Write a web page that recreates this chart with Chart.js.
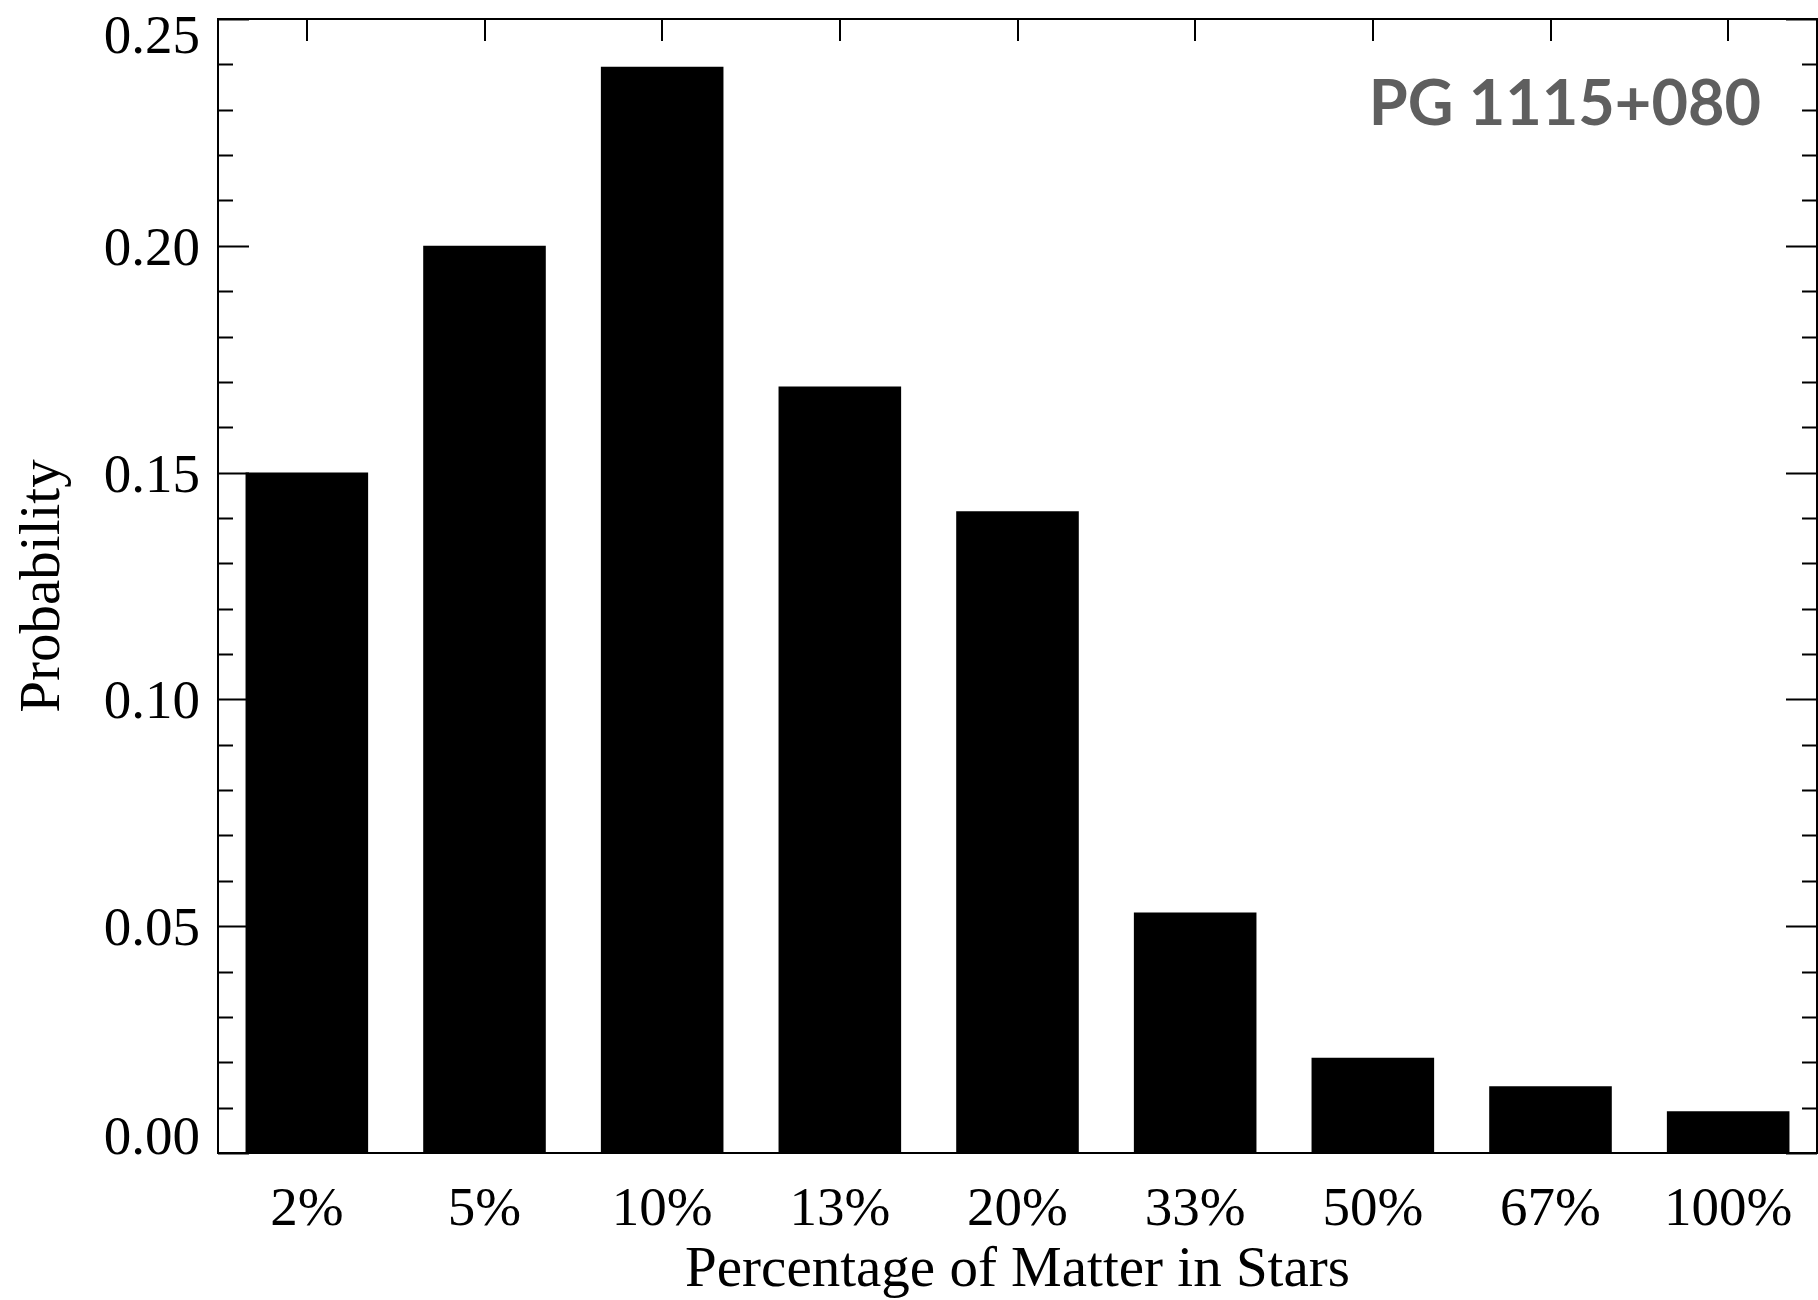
<!DOCTYPE html>
<html>
<head>
<meta charset="utf-8">
<script src="https://cdn.jsdelivr.net/npm/chart.js@4.4.0/dist/chart.umd.min.js"></script>
<style>
    body { margin: 0; background: #fff; }
    #wrap { width: 1818px; height: 1300px; position: relative; }
</style>
</head>
<body>
<div id="wrap"><canvas id="chart"></canvas></div>
<script>
const categories = ["2%", "5%", "10%", "13%", "20%", "33%", "50%", "67%", "100%"];
const probabilities = [0.150, 0.200, 0.2395, 0.169, 0.1415, 0.053, 0.021, 0.0147, 0.0092];
const yTickValues = [0, 0.05, 0.10, 0.15, 0.20, 0.25];
const yMinorStep = 0.01;
const xTitle = "Percentage of Matter in Stars";
const yTitle = "Probability";
const annotation = "PG 1115+080";

const serif = "'Liberation Serif', 'DejaVu Serif', serif";

// frame, ticks and texts drawn with the chart's own scales
const idlAxes = {
    id: "idlAxes",
    afterDatasetsDraw(chart) {
        const { ctx, chartArea: a, scales: { x, y } } = chart;
        ctx.save();
        ctx.strokeStyle = "#000";
        ctx.lineWidth = 2;
        ctx.strokeRect(a.left, a.top, a.right - a.left, a.bottom - a.top);

        ctx.beginPath();
        // minor / major ticks left and right
        const n = Math.round(0.25 / yMinorStep);
        for (let i = 0; i <= n; i++) {
            const v = i * yMinorStep;
            const py = Math.round(y.getPixelForValue(v)) + 0.5;
            const len = i % 5 === 0 ? 31 : 15;
            ctx.moveTo(a.left, py); ctx.lineTo(a.left + len, py);
            ctx.moveTo(a.right, py); ctx.lineTo(a.right - len, py);
        }
        // top ticks at bar centres
        categories.forEach((c, i) => {
            const px = Math.round(x.getPixelForValue(i));
            ctx.moveTo(px, a.top); ctx.lineTo(px, a.top + 22);
        });
        ctx.stroke();

        ctx.fillStyle = "#000";
        ctx.font = "55px " + serif;
        ctx.textAlign = "right";
        ctx.textBaseline = "alphabetic";
        yTickValues.forEach(v => {
            const py = y.getPixelForValue(v);
            const base = Math.min(Math.max(py + 19, 53), 1154);
            ctx.fillText(v.toFixed(2), a.left - 18, base);
        });

        ctx.textAlign = "center";
        categories.forEach((c, i) => {
            ctx.fillText(c, x.getPixelForValue(i), 1225);
        });

        ctx.font = "57px " + serif;
        ctx.fillText(xTitle, (a.left + a.right) / 2, 1286);

        ctx.save();
        ctx.translate(59, (a.top + a.bottom) / 2);
        ctx.rotate(-Math.PI / 2);
        ctx.fillText(yTitle, 0, 0);
        ctx.restore();

        ctx.fillStyle = "#5f5f5f";
        ctx.font = "bold 63px Lato, 'Open Sans', sans-serif";
        ctx.textAlign = "right";
        ctx.fillText(annotation, 1761, 125);
        ctx.restore();
    }
};

new Chart(document.getElementById("chart").getContext("2d"), {
    type: "bar",
    data: {
        labels: categories,
        datasets: [{
            data: probabilities,
            backgroundColor: "#000",
            borderWidth: 0,
            barPercentage: 0.69,
            categoryPercentage: 1
        }]
    },
    options: {
        responsive: true,
        maintainAspectRatio: false,
        animation: false,
        layout: { padding: { left: 218, right: 1, top: 19, bottom: 147 } },
        plugins: { legend: { display: false }, tooltip: { enabled: false } },
        scales: {
            x: { display: false },
            y: { display: false, min: 0, max: 0.25 }
        }
    },
    plugins: [idlAxes]
});
</script>
</body>
</html>
